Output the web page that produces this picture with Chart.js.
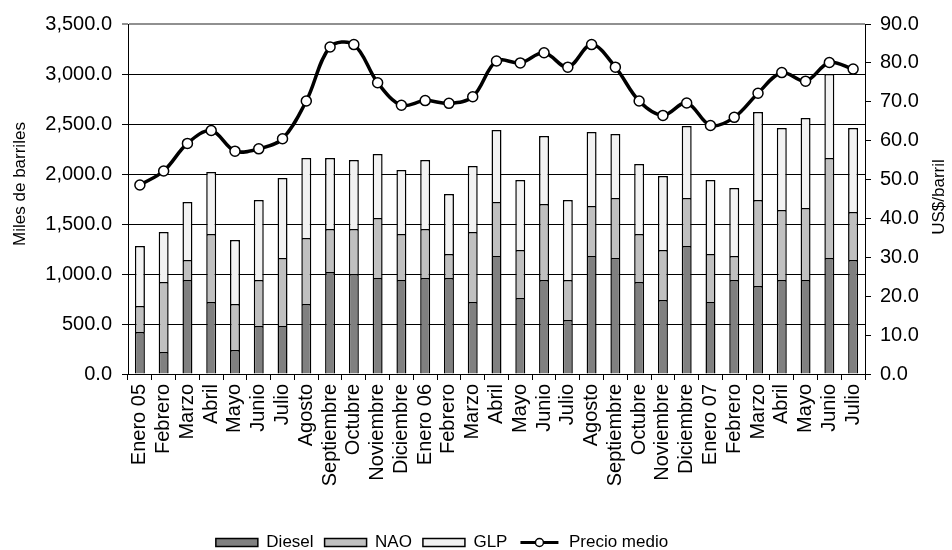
<!DOCTYPE html>
<html><head><meta charset="utf-8">
<script src="https://cdn.jsdelivr.net/npm/chart.js@4.4.1/dist/chart.umd.min.js"></script>
<style>html,body{margin:0;padding:0;background:#fff;}</style>
</head><body>
<canvas id="c" width="952" height="550"></canvas>
<script>
const categories = ['Enero 05','Febrero','Marzo','Abril','Mayo','Junio','Julio','Agosto','Septiembre','Octubre','Noviembre','Diciembre',
  'Enero 06','Febrero','Marzo','Abril','Mayo','Junio','Julio','Agosto','Septiembre','Octubre','Noviembre','Diciembre',
  'Enero 07','Febrero','Marzo','Abril','Mayo','Junio','Julio'];
const diesel = [420,220,940,720,240,480,480,700,1020,1000,960,940,960,960,720,1180,760,940,540,1180,1160,920,740,1280,720,940,880,940,940,1160,1140];
const nao    = [260,700,200,680,460,460,680,660,430,450,600,460,490,240,700,540,480,760,400,500,600,480,500,480,480,240,860,700,720,1000,480];
const glp    = [600,500,580,620,640,800,800,800,710,690,640,640,690,600,660,720,700,680,800,740,640,700,740,720,740,680,880,820,900,840,840];
const precioMedio = [48.6,52.2,59.3,62.6,57.3,57.9,60.5,70.2,84.1,84.7,74.9,69.1,70.3,69.6,71.3,80.5,80.0,82.6,78.9,84.7,78.9,70.2,66.5,69.7,63.9,66.0,72.2,77.5,75.3,80.1,78.4];
const seriesNames = ['Diesel','NAO','GLP','Precio medio'];
const leftAxisTitle = 'Miles de barriles';
const rightAxisTitle = 'US$/barril';
const leftMax = 3500, leftStep = 500;
const rightMax = 90, rightStep = 10;

const FONT = '"Liberation Sans", Arial, sans-serif';

const customPlugin = {
  id: 'custom',
  afterLayout(chart) {
    const lg = chart.legend;
    if (!lg) return;
    const dy = 11, dx = -34;
    lg.top += dy; lg.bottom += dy;
    lg.left += dx; lg.right += dx;
  },
  afterDraw(chart) {
    const ctx = chart.ctx;
    ctx.save();
    ctx.fillStyle = '#000';
    ctx.font = '17px ' + FONT;
    ctx.textAlign = 'center';
    ctx.textBaseline = 'middle';
    ctx.save();
    ctx.translate(20, 184); ctx.rotate(-Math.PI / 2);
    ctx.fillText(leftAxisTitle, 0, 0);
    ctx.restore();
    ctx.save();
    ctx.translate(939, 197); ctx.rotate(-Math.PI / 2);
    ctx.fillText(rightAxisTitle, 0, 0);
    ctx.restore();
    // legend line symbol
    const lg = chart.legend;
    if (lg && lg.legendHitBoxes && lg.legendHitBoxes[3]) {
      const hb = lg.legendHitBoxes[3];
      const cy = hb.top + hb.height / 2;
      const x0 = hb.left + 2, x1 = hb.left + 40;
      ctx.strokeStyle = '#000'; ctx.lineWidth = 3;
      ctx.beginPath(); ctx.moveTo(x0, cy); ctx.lineTo(x1, cy); ctx.stroke();
      ctx.beginPath(); ctx.arc((x0 + x1) / 2, cy, 4, 0, Math.PI * 2);
      ctx.fillStyle = '#fff'; ctx.fill();
      ctx.lineWidth = 1.5; ctx.stroke();
    }
    ctx.restore();
  }
};

new Chart(document.getElementById('c'), {
  data: {
    labels: categories,
    datasets: [
      { type: 'bar', label: seriesNames[0], data: diesel, backgroundColor: '#808080', borderColor: '#000', borderWidth: 1.5, yAxisID: 'y', order: 1, barPercentage: 0.42, categoryPercentage: 1 },
      { type: 'bar', label: seriesNames[1], data: nao, backgroundColor: '#c0c0c0', borderColor: '#000', borderWidth: 1.5, yAxisID: 'y', order: 1, barPercentage: 0.42, categoryPercentage: 1 },
      { type: 'bar', label: seriesNames[2], data: glp, backgroundColor: '#f2f2f2', borderColor: '#000', borderWidth: 1.5, yAxisID: 'y', order: 1, barPercentage: 0.42, categoryPercentage: 1 },
      { type: 'line', label: seriesNames[3], data: precioMedio, yAxisID: 'y1', order: 0, borderColor: '#000', borderWidth: 3.5, tension: 0.35,
        pointRadius: 5, pointBackgroundColor: '#fff', pointBorderColor: '#000', pointBorderWidth: 1.5, backgroundColor: '#fff' }
    ]
  },
  options: {
    responsive: false,
    animation: false,
    devicePixelRatio: 1,
    layout: { padding: { top: 24, left: 0, right: 0, bottom: 0 } },
    plugins: {
      tooltip: { enabled: false },
      legend: {
        position: 'bottom',
        labels: {
          font: { family: FONT, size: 17 },
          color: '#000',
          boxWidth: 42, boxHeight: 8, padding: 11,
          sort: (a, b) => a.datasetIndex - b.datasetIndex,
          generateLabels(chart) {
            const items = Chart.defaults.plugins.legend.labels.generateLabels(chart);
            items.forEach(it => {
              if (it.datasetIndex === 3) { it.fillStyle = 'rgba(0,0,0,0)'; it.strokeStyle = 'rgba(0,0,0,0)'; it.lineWidth = 0; }
              else { it.lineWidth = 1.5; it.strokeStyle = '#000'; }
            });
            return items;
          }
        }
      }
    },
    scales: {
      x: {
        stacked: true,
        afterFit(s) { s.height = 138; },
        grid: { display: true, drawOnChartArea: false, drawTicks: true, tickLength: 6, color: '#000', offset: true },
        border: { display: true, color: '#000', width: 1 },
        ticks: { autoSkip: false, minRotation: 90, maxRotation: 90, padding: 4, color: '#000', font: { family: FONT, size: 20 } }
      },
      y: {
        stacked: true, position: 'left', min: 0, max: leftMax,
        afterFit(s) { s.width = 128; },
        ticks: { stepSize: leftStep, padding: 10, color: '#000', font: { family: FONT, size: 20 },
          callback: v => Number(v).toLocaleString('en-US', { minimumFractionDigits: 1, maximumFractionDigits: 1 }) },
        grid: { color: ctx => (ctx.tick && ctx.tick.value === leftMax) ? '#909090' : '#000', lineWidth: ctx => (ctx.tick && ctx.tick.value === leftMax) ? 2 : 1, tickLength: 6, drawTicks: true },
        border: { display: true, color: '#000', width: 1 }
      },
      y1: {
        position: 'right', min: 0, max: rightMax,
        afterFit(s) { s.width = 87; },
        ticks: { stepSize: rightStep, padding: 9, color: '#000', font: { family: FONT, size: 20 },
          callback: v => Number(v).toFixed(1) },
        grid: { drawOnChartArea: false, color: '#000', tickLength: 6, drawTicks: true },
        border: { display: true, color: '#000', width: 1 }
      }
    }
  },
  plugins: [customPlugin]
});
</script>
</body></html>
